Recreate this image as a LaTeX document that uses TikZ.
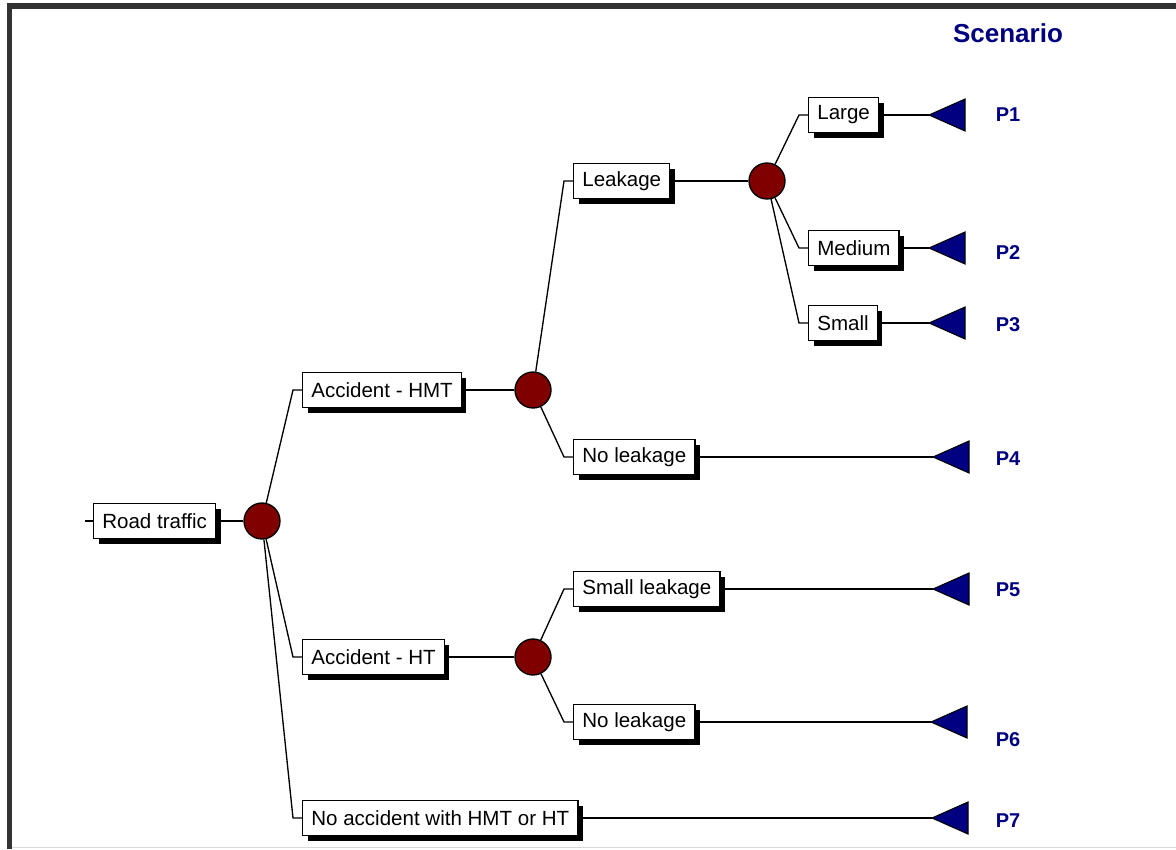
\documentclass[tikz,border=0pt]{standalone}
\usepackage{fontspec}
\setmainfont{Liberation Sans}
\usetikzlibrary{shadows}
\definecolor{frameg}{HTML}{333333}
\definecolor{chancered}{HTML}{800000}
\definecolor{scenblue}{HTML}{000080}
\begin{document}
\begin{tikzpicture}[x=0.75pt, y=-0.75pt,
  event/.style={rectangle, draw=black, fill=white, line width=1pt, anchor=west,
    inner xsep=6.5pt, inner ysep=0pt, minimum height=26.25pt,
    font=\fontsize{15.4}{18}\selectfont,
    drop shadow={shadow xshift=3.75pt, shadow yshift=-3.75pt, fill=black, opacity=1}},
  link/.style={line width=1pt},
  chance/.style={circle, draw=black, fill=chancered, line width=1pt,
    minimum size=27pt, inner sep=0pt},
  outcome/.style={draw=black, fill=scenblue, line width=0.8pt, line join=miter},
  plabel/.style={text=scenblue, font=\bfseries\fontsize{15}{18}\selectfont}]
\useasboundingbox (0,0) rectangle (1176,849);

% page frame
\fill[frameg] (7,3) rectangle (1176,9);
\fill[frameg] (7,3) rectangle (12,849);
\draw[black!15, line width=0.75pt] (12,847.5) -- (1176,847.5);

% heading
\node[text=scenblue, font=\bfseries\fontsize{19.5}{22}\selectfont] (scen) at (1008,33) {Scenario};

% events and chance nodes
\coordinate (start) at (85,521);
\node[event] (rt) at (93,521) {Road traffic};
\node[chance] (cA) at (262,521) {};
\node[event] (hmt) at (302,390) {Accident - HMT};
\node[chance] (cB) at (533,390) {};
\node[event] (leak) at (573,181) {Leakage};
\node[chance] (cC) at (767,181) {};
\node[event] (large) at (808,115) {Large};
\node[event] (med) at (808,248) {Medium};
\node[event] (small) at (808,323) {Small};
\node[event] (noleakA) at (573,457) {No leakage};
\node[event] (ht) at (302,657) {Accident - HT};
\node[chance] (cD) at (533,657) {};
\node[event] (sleak) at (573,589) {Small leakage};
\node[event] (noleakB) at (573,722) {No leakage};
\node[event] (noacc) at (302,818) {No accident with HMT or HT};

% end points (triangle tips)
\coordinate (t1) at (929,115);
\coordinate (t2) at (929,248);
\coordinate (t3) at (929,323);
\coordinate (t4) at (933,457);
\coordinate (t5) at (933,589);
\coordinate (t6) at (931,722);
\coordinate (t7) at (932,818);

% connectors
\draw[link] (start) -- (rt.west);
\draw[link] (rt.east) -- (cA);
\draw[link] (cA) -- ([xshift=-6.75pt]hmt.west) -- (hmt.west);
\draw[link] (cA) -- ([xshift=-6.75pt]ht.west) -- (ht.west);
\draw[link] (cA) -- ([xshift=-6.75pt]noacc.west) -- (noacc.west);
\draw[link] (hmt.east) -- (cB);
\draw[link] (cB) -- ([xshift=-6.75pt]leak.west) -- (leak.west);
\draw[link] (cB) -- ([xshift=-6.75pt]noleakA.west) -- (noleakA.west);
\draw[link] (leak.east) -- (cC);
\draw[link] (cC) -- ([xshift=-6.75pt]large.west) -- (large.west);
\draw[link] (cC) -- ([xshift=-6.75pt]med.west) -- (med.west);
\draw[link] (cC) -- ([xshift=-6.75pt]small.west) -- (small.west);
\draw[link] (ht.east) -- (cD);
\draw[link] (cD) -- ([xshift=-6.75pt]sleak.west) -- (sleak.west);
\draw[link] (cD) -- ([xshift=-6.75pt]noleakB.west) -- (noleakB.west);
\draw[link] (large.east) -- (t1);
\draw[link] (med.east) -- (t2);
\draw[link] (small.east) -- (t3);
\draw[link] (noleakA.east) -- (t4);
\draw[link] (sleak.east) -- (t5);
\draw[link] (noleakB.east) -- (t6);
\draw[link] (noacc.east) -- (t7);

% scenario triangles
\foreach \t in {t1,t2,t3,t4,t5,t6,t7}
  \filldraw[outcome] (\t) -- ++(36,-16) -- ++(0,32) -- cycle;

% scenario labels
\node[plabel] (p1) at (1008,115) {P1};
\node[plabel] (p2) at (1008,253) {P2};
\node[plabel] (p3) at (1008,325) {P3};
\node[plabel] (p4) at (1008,459) {P4};
\node[plabel] (p5) at (1008,590) {P5};
\node[plabel] (p6) at (1008,740) {P6};
\node[plabel] (p7) at (1008,821) {P7};
\end{tikzpicture}
\end{document}
